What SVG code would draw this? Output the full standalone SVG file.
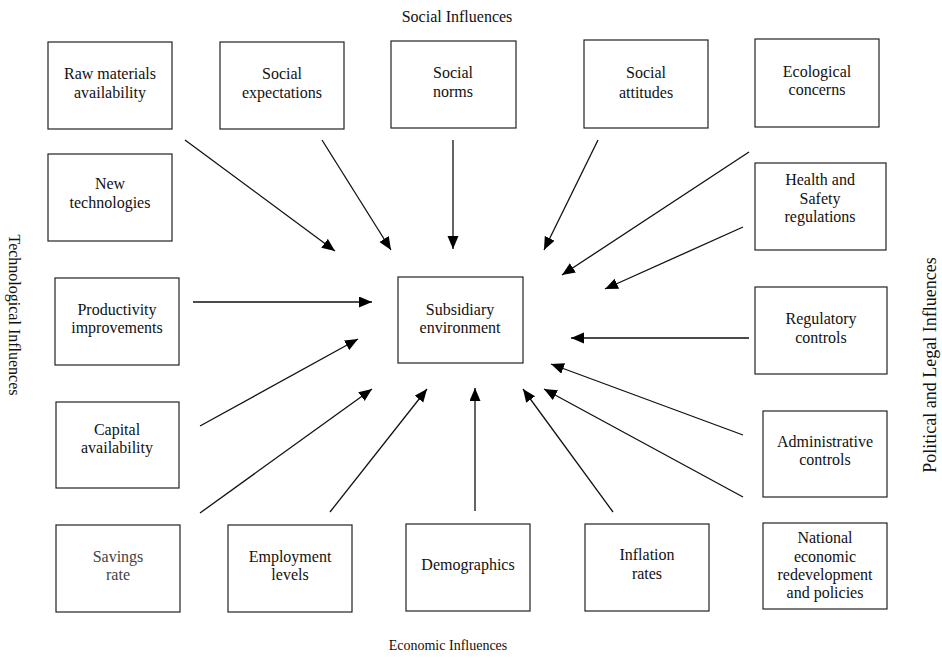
<svg xmlns="http://www.w3.org/2000/svg" width="942" height="658" viewBox="0 0 942 658" font-family="'Liberation Serif', 'DejaVu Serif', serif">
<defs>
<style>
.box{fill:#fff;stroke:#222;stroke-width:1.2}
text{font-family:'Liberation Serif','DejaVu Serif',serif;font-size:16px;fill:#111;text-anchor:middle}
.con line{stroke:#111;stroke-width:1.3}
</style>
<marker id="ah" markerUnits="userSpaceOnUse" markerWidth="14" markerHeight="12" refX="13" refY="5.5" orient="auto">
<path d="M0,0 L13,5.5 L0,11 z" fill="#000"/>
</marker>
</defs>
<rect width="942" height="658" fill="#fff"/>

<text x="457" y="22" font-size="16">Social Influences</text>
<text x="448" y="650" style="font-size:14px">Economic Influences</text>
<text transform="translate(9,315) rotate(90)" style="font-size:16px">Technological Influences</text>
<text transform="translate(936,365) rotate(-90)" style="font-size:18px">Political and Legal Influences</text>

<g id="raw"><rect class="box" x="48" y="42" width="124" height="87"/><text x="110" y="79">Raw materials</text><text x="110" y="98">availability</text></g>
<g id="expectations"><rect class="box" x="220" y="42" width="124" height="87"/><text x="282" y="79">Social</text><text x="282" y="98">expectations</text></g>
<g id="norms"><rect class="box" x="391" y="41" width="125" height="87"/><text x="453" y="78">Social</text><text x="453" y="97">norms</text></g>
<g id="attitudes"><rect class="box" x="584" y="40" width="124" height="88"/><text x="646" y="78">Social</text><text x="646" y="98">attitudes</text></g>
<g id="ecological"><rect class="box" x="755" y="39" width="124" height="88"/><text x="817" y="77">Ecological</text><text x="817" y="95">concerns</text></g>
<g id="newtech"><rect class="box" x="48" y="154" width="124" height="87"/><text x="110" y="189">New</text><text x="110" y="208">technologies</text></g>
<g id="health"><rect class="box" x="755" y="163" width="131" height="87"/><text x="820" y="185">Health and</text><text x="820" y="204">Safety</text><text x="820" y="222">regulations</text></g>
<g id="productivity"><rect class="box" x="55" y="278" width="124" height="87"/><text x="117" y="315">Productivity</text><text x="117" y="333">improvements</text></g>
<g id="subsidiary"><rect class="box" x="398" y="277" width="125" height="86"/><text x="460" y="315">Subsidiary</text><text x="460" y="333">environment</text></g>
<g id="regulatory"><rect class="box" x="755" y="287" width="132" height="87"/><text x="821" y="324">Regulatory</text><text x="821" y="343">controls</text></g>
<g id="capital"><rect class="box" x="56" y="402" width="123" height="86"/><text x="117" y="435">Capital</text><text x="117" y="453">availability</text></g>
<g id="administrative"><rect class="box" x="763" y="411" width="124" height="86"/><text x="825" y="447">Administrative</text><text x="825" y="465">controls</text></g>
<g id="savings"><rect class="box" x="56" y="525" width="124" height="87"/><text x="118" y="562" style="fill:#444">Savings</text><text x="118" y="580" style="fill:#444">rate</text></g>
<g id="employment"><rect class="box" x="228" y="525" width="124" height="87"/><text x="290" y="562">Employment</text><text x="290" y="580">levels</text></g>
<g id="demographics"><rect class="box" x="406" y="524" width="124" height="87"/><text x="468" y="570">Demographics</text></g>
<g id="inflation"><rect class="box" x="585" y="524" width="124" height="87"/><text x="647" y="560">Inflation</text><text x="647" y="579">rates</text></g>
<g id="national"><rect class="box" x="763" y="523" width="124" height="86"/><text x="825" y="543">National</text><text x="825" y="562">economic</text><text x="825" y="580">redevelopment</text><text x="825" y="598">and policies</text></g>

<g id="connectors" class="con">
<line x1="185" y1="140" x2="335" y2="251" marker-end="url(#ah)"/>
<line x1="322" y1="140" x2="391" y2="250" marker-end="url(#ah)"/>
<line x1="453" y1="140" x2="453" y2="249" marker-end="url(#ah)"/>
<line x1="598" y1="140" x2="544" y2="250" marker-end="url(#ah)"/>
<line x1="749" y1="152" x2="562" y2="275" marker-end="url(#ah)"/>
<line x1="743" y1="227" x2="605" y2="289" marker-end="url(#ah)"/>
<line x1="749" y1="338" x2="571" y2="338" marker-end="url(#ah)"/>
<line x1="743" y1="435" x2="551" y2="364" marker-end="url(#ah)"/>
<line x1="743" y1="497" x2="544" y2="389" marker-end="url(#ah)"/>
<line x1="613" y1="512" x2="523" y2="389" marker-end="url(#ah)"/>
<line x1="475" y1="511" x2="475" y2="388" marker-end="url(#ah)"/>
<line x1="330" y1="512" x2="427" y2="389" marker-end="url(#ah)"/>
<line x1="200" y1="513" x2="372" y2="389" marker-end="url(#ah)"/>
<line x1="200" y1="426" x2="358" y2="339" marker-end="url(#ah)"/>
<line x1="193" y1="302" x2="372" y2="302" marker-end="url(#ah)"/>
</g>
</svg>
